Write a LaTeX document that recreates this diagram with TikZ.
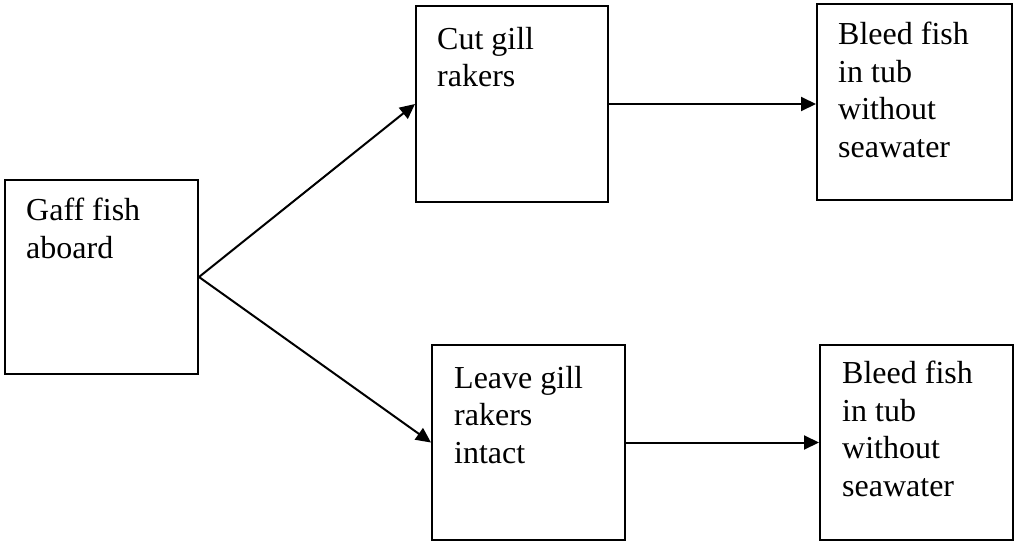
\documentclass[tikz,border=0pt]{standalone}
\usepackage{fontspec}
\setmainfont{Liberation Serif}
\usetikzlibrary{arrows.meta}
\begin{document}
\begin{tikzpicture}[x=1pt,y=-1pt,
  box/.style={draw=black, line width=2pt, rectangle, inner sep=0pt},
  txt/.style={inner sep=0pt, anchor=base west, align=left,
    font=\fontsize{32}{37.5}\selectfont},
  conn/.style={line width=2pt, -{Triangle[length=15pt,width=14pt]}}]
\useasboundingbox (0,0) rectangle (1015,543);
% boxes
\node[box, minimum width=193pt, minimum height=194pt] (gaff) at (101.5,277) {};
\node[box, minimum width=192pt, minimum height=196pt] (cut) at (512,104) {};
\node[box, minimum width=195pt, minimum height=196pt] (bleedA) at (914.5,102) {};
\node[box, minimum width=193pt, minimum height=195pt] (leave) at (528.5,442.5) {};
\node[box, minimum width=193pt, minimum height=195pt] (bleedB) at (916.5,442.5) {};
% texts (anchored at the baseline of their last line)
\node[txt] (tgaff) at (26,258) {Gaff fish\\aboard};
\node[txt] (tcut) at (437,87) {Cut gill\\rakers};
\node[txt] (tbleedA) at (838,157) {Bleed fish\\in tub\\without\\seawater};
\node[txt] (tleave) at (454,463) {Leave gill\\rakers\\intact};
\node[txt] (tbleedB) at (842,496) {Bleed fish\\in tub\\without\\seawater};
% connectors
\draw[conn] (gaff.east) -- (cut.west);
\draw[conn] (gaff.east) -- (leave.west);
\draw[conn] (cut.east) -- (bleedA.west |- cut.east);
\draw[conn] (leave.east) -- (bleedB.west |- leave.east);
\end{tikzpicture}
\end{document}
